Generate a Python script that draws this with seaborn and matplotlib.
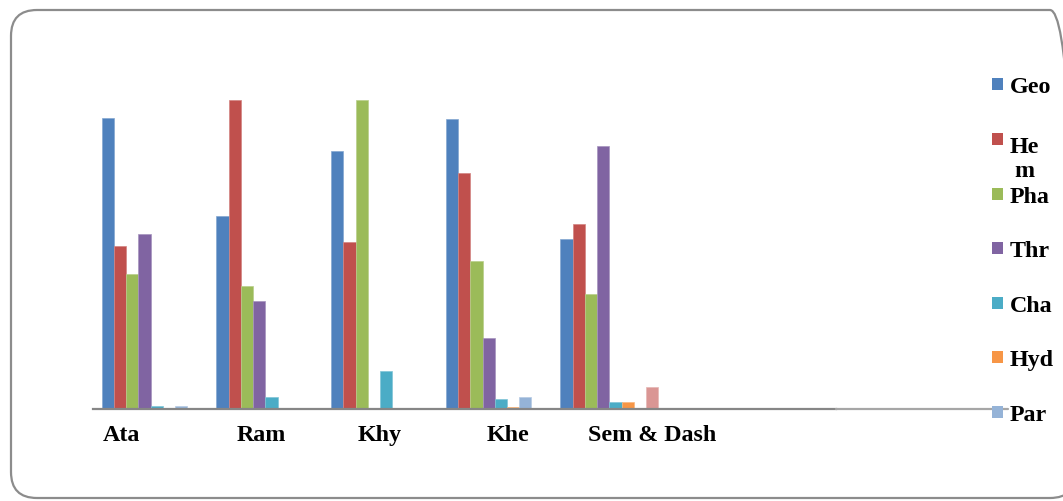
import numpy as np
import pandas as pd
import matplotlib
matplotlib.use("Agg")
import matplotlib.pyplot as plt
from matplotlib.patches import FancyBboxPatch, Rectangle
from matplotlib.lines import Line2D
from matplotlib.transforms import ScaledTranslation
import seaborn as sns

# ---- data -------------------------------------------------------------
sites = ["Ata", "Ram", "Khy", "Khe", "Sem & Dash"]
series = ["Geo", "Hem", "Pha", "Thr", "Cha", "Hyd", "Par", "Oth"]

geo = [94.2, 62.4, 83.3, 93.8, 54.9]
hem = [52.7, 100.0, 54.1, 76.4, 59.8]
pha = [43.6, 39.8, 100.0, 47.8, 37.3]
thr = [56.6, 34.8, 0.0, 23.1, 84.9]
cha = [1.0, 4.0, 12.2, 3.2, 2.3]
hyd = [0.0, 0.0, 0.0, 0.5, 2.3]
par = [1.0, 0.0, 0.0, 4.0, 0.0]
oth = [0.0, 0.0, 0.0, 0.0, 7.2]

legend_labels = ["Geo", "He\nm", "Pha", "Thr", "Cha", "Hyd", "Par"]

colors = ["#4F81BD", "#C0504D", "#9BBB59", "#8064A2",
          "#4BACC6", "#F79646", "#95B3D7", "#DA9694"]

values = [geo, hem, pha, thr, cha, hyd, par, oth]
df = pd.DataFrame(
    [(s, name, v) for name, vals in zip(series, values) for s, v in zip(sites, vals)],
    columns=["site", "series", "value"],
)

# ---- figure -----------------------------------------------------------
sns.set_theme(style="white")
plt.rcParams["font.family"] = ["Liberation Serif", "DejaVu Serif"]

W, H, DPI = 1063, 502, 100
fig = plt.figure(figsize=(W / DPI, H / DPI), dpi=DPI)
fig.patch.set_facecolor("white")

def fx(px):
    return px / W

def fy(py):
    return (H - py) / H

# rounded outer frame, laid out in inches (pixels / dpi)
frame = FancyBboxPatch((11 / DPI, (H - 499) / DPI), (1076 - 11) / DPI, (499 - 11) / DPI,
                       boxstyle="round,pad=0,rounding_size=0.26",
                       transform=fig.dpi_scale_trans, facecolor="none",
                       edgecolor="#8C8C8C", linewidth=1.6, zorder=0)
fig.patches.append(frame)

ax_left, ax_right = 93.3, 836.0
ax_bottom, ax_top = 410.0, 85.0
ax = fig.add_axes([fx(ax_left), fy(ax_bottom), fx(ax_right - ax_left),
                   fy(ax_top) - fy(ax_bottom)])
ax.set_facecolor("none")
ax.set_zorder(2)

sns.barplot(data=df, x="site", y="value", hue="series", hue_order=series,
            palette=colors, saturation=1, width=0.854, gap=0, dodge=True,
            errorbar=None, legend=False, linewidth=0.5, ax=ax)

# soften bar outlines with a lighter tint of each fill
for patch in ax.patches:
    r, g, b, _ = patch.get_facecolor()
    patch.set_edgecolor((r + (1 - r) * 0.3, g + (1 - g) * 0.3, b + (1 - b) * 0.3))

ax.set_xlim(-0.5, 5.975)
ax.set_ylim(0, 105.08)
for s in ["top", "left", "right"]:
    ax.spines[s].set_visible(False)
ax.spines["bottom"].set_color("#868686")
ax.spines["bottom"].set_linewidth(1.6)
ax.set_yticks([])
ax.set_xlabel("")
ax.set_ylabel("")

ax.set_xticks(range(len(sites)))
ax.set_xticklabels(sites, fontsize=17.3, fontweight="bold", color="black")
ax.tick_params(axis="x", length=0, pad=11)
label_shift_px = [-29, -4.5, 0, 13.5, 43]
for lab, dx in zip(ax.get_xticklabels(), label_shift_px):
    lab.set_transform(lab.get_transform() + ScaledTranslation(dx / DPI, 0, fig.dpi_scale_trans))

# ---- legend (right side) ---------------------------------------------
row_y = [85, 140, 195, 249, 304, 358, 413]
line_h = 1.2 * 17.3 * DPI / 72
# the last entry's handle carries a line that runs back along the baseline
fig.lines.append(Line2D([fx(836), fx(1008)], [fy(410), fy(410)],
                        transform=fig.transFigure, color="#A6A6A6",
                        linewidth=1.6, zorder=2))
sq = 11.5
for lab, col, y in zip(legend_labels, colors, row_y):
    fig.patches.append(Rectangle((fx(991.5), fy(y + sq / 2)), sq / W, sq / H,
                                 transform=fig.transFigure, facecolor=col,
                                 edgecolor="none", zorder=3))
    extra = (lab.count("\n")) * line_h
    fig.text(fx(1010), fy(y + 8 + extra), lab, fontsize=17.3, fontweight="bold",
             ha="left", va="baseline", multialignment="center",
             linespacing=1.2, color="black", zorder=3)

fig.savefig("out.png", dpi=DPI, facecolor="white")
